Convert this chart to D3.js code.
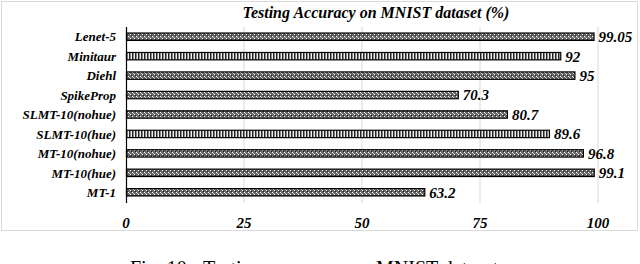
<!DOCTYPE html>
<html>
<head>
<meta charset="utf-8">
<script src="https://cdn.jsdelivr.net/npm/d3@7"></script>
<style>
  html, body { margin: 0; padding: 0; background: #fff; }
  svg { display: block; }
</style>
</head>
<body>
<div id="chart"></div>
<script>
const categories = ["Lenet-5", "Minitaur", "Diehl", "SpikeProp", "SLMT-10(nohue)", "SLMT-10(hue)", "MT-10(nohue)", "MT-10(hue)", "MT-1"];
const values = [99.05, 92, 95, 70.3, 80.7, 89.6, 96.8, 99.1, 63.2];
const valueLabels = ["99.05", "92", "95", "70.3", "80.7", "89.6", "96.8", "99.1", "63.2"];
const patterns = ["dots", "stripes", "dots", "dots", "dots", "stripes", "dots", "dots", "dots"];
const xTicks = [0, 25, 50, 75, 100];

const width = 640, height = 264;
const font = "'Liberation Serif', 'Times New Roman', serif";

const svg = d3.select("#chart")
    .append("svg")
    .attr("width", width)
    .attr("height", height);

// bar fills, like excel pattern fills
const defs = svg.append("defs");
const dots = defs.append("pattern")
    .attr("id", "dots")
    .attr("patternUnits", "userSpaceOnUse")
    .attr("width", 4).attr("height", 4);
dots.append("rect").attr("width", 4).attr("height", 4).attr("fill", "#666");
dots.append("rect").attr("x", 0).attr("y", 0).attr("width", 1).attr("height", 1).attr("fill", "#fff");
dots.append("rect").attr("x", 2).attr("y", 2).attr("width", 1).attr("height", 1).attr("fill", "#fff");
dots.append("rect").attr("x", 1).attr("y", 1).attr("width", 1).attr("height", 1).attr("fill", "#ccc");
dots.append("rect").attr("x", 3).attr("y", 3).attr("width", 1).attr("height", 1).attr("fill", "#222");

const stripes = defs.append("pattern")
    .attr("id", "stripes")
    .attr("patternUnits", "userSpaceOnUse")
    .attr("width", 3).attr("height", 4);
stripes.append("rect").attr("width", 3).attr("height", 4).attr("fill", "#eee");
stripes.append("rect").attr("x", 0).attr("width", 1.5).attr("height", 4).attr("fill", "#222");

// chart frame
svg.append("rect")
    .attr("x", 1.5).attr("y", 1.5)
    .attr("width", 636).attr("height", 229)
    .attr("fill", "none")
    .attr("stroke", "#d9d9d9");

const x = d3.scaleLinear().domain([0, 100]).range([126, 598]);
const y = d3.scaleBand().domain(categories).range([27, 202]).paddingInner(0.62).paddingOuter(0.31);

svg.append("text")
    .attr("x", 376).attr("y", 18)
    .attr("text-anchor", "middle")
    .style("font-family", font)
    .style("font-weight", "bold").style("font-style", "italic")
    .style("font-size", "16px")
    .text("Testing Accuracy on MNIST dataset (%)");

// gridlines
svg.append("g")
    .selectAll("line")
    .data(xTicks.slice(1))
    .enter()
    .append("line")
    .attr("x1", d => x(d)).attr("x2", d => x(d))
    .attr("y1", 27).attr("y2", 203)
    .attr("stroke", "#d9d9d9");

// x tick labels
svg.append("g")
    .selectAll("text")
    .data(xTicks)
    .enter()
    .append("text")
    .attr("x", d => x(d)).attr("y", 228)
    .attr("text-anchor", "middle")
    .style("font-family", font)
    .style("font-weight", "bold").style("font-style", "italic")
    .style("font-size", "15px")
    .text(d => d);

svg.append("g")
    .selectAll("rect")
    .data(categories)
    .enter()
    .append("rect")
    .attr("x", x(0) + 0.5)
    .attr("y", d => y(d))
    .attr("width", (d, i) => x(values[i]) - x(0))
    .attr("height", y.bandwidth())
    .attr("fill", (d, i) => "url(#" + patterns[i] + ")")
    .attr("stroke", "#000")
    .attr("stroke-width", 1.2);

// value labels
svg.append("g")
    .selectAll("text")
    .data(categories)
    .enter()
    .append("text")
    .attr("x", (d, i) => x(values[i]) + 5)
    .attr("y", d => y(d) + y.bandwidth() / 2)
    .attr("dy", "0.36em")
    .style("font-family", font)
    .style("font-weight", "bold").style("font-style", "italic")
    .style("font-size", "15px")
    .text((d, i) => valueLabels[i]);

// category labels
svg.append("g")
    .selectAll("text")
    .data(categories)
    .enter()
    .append("text")
    .attr("x", 116)
    .attr("y", d => y(d) + y.bandwidth() / 2)
    .attr("dy", "0.36em")
    .attr("text-anchor", "end")
    .style("font-family", font)
    .style("font-weight", "bold").style("font-style", "italic")
    .style("font-size", "13px")
    .text(d => d);

// y axis line
svg.append("line")
    .attr("x1", 126.5).attr("x2", 126.5)
    .attr("y1", 27).attr("y2", 203)
    .attr("stroke", "#000")
    .attr("stroke-width", 1.2);

// caption, cut at the page edge as in the source (justified line)
const caption = svg.append("text")
    .attr("y", 275)
    .style("font-family", font)
    .style("font-size", "20px");
caption.append("tspan").attr("x", 130).text("Fig. 10.");
caption.append("tspan").attr("x", 203).text("Testing accuracy on");
caption.append("tspan").attr("x", 376).text("MNIST dataset.");
</script>
</body>
</html>
